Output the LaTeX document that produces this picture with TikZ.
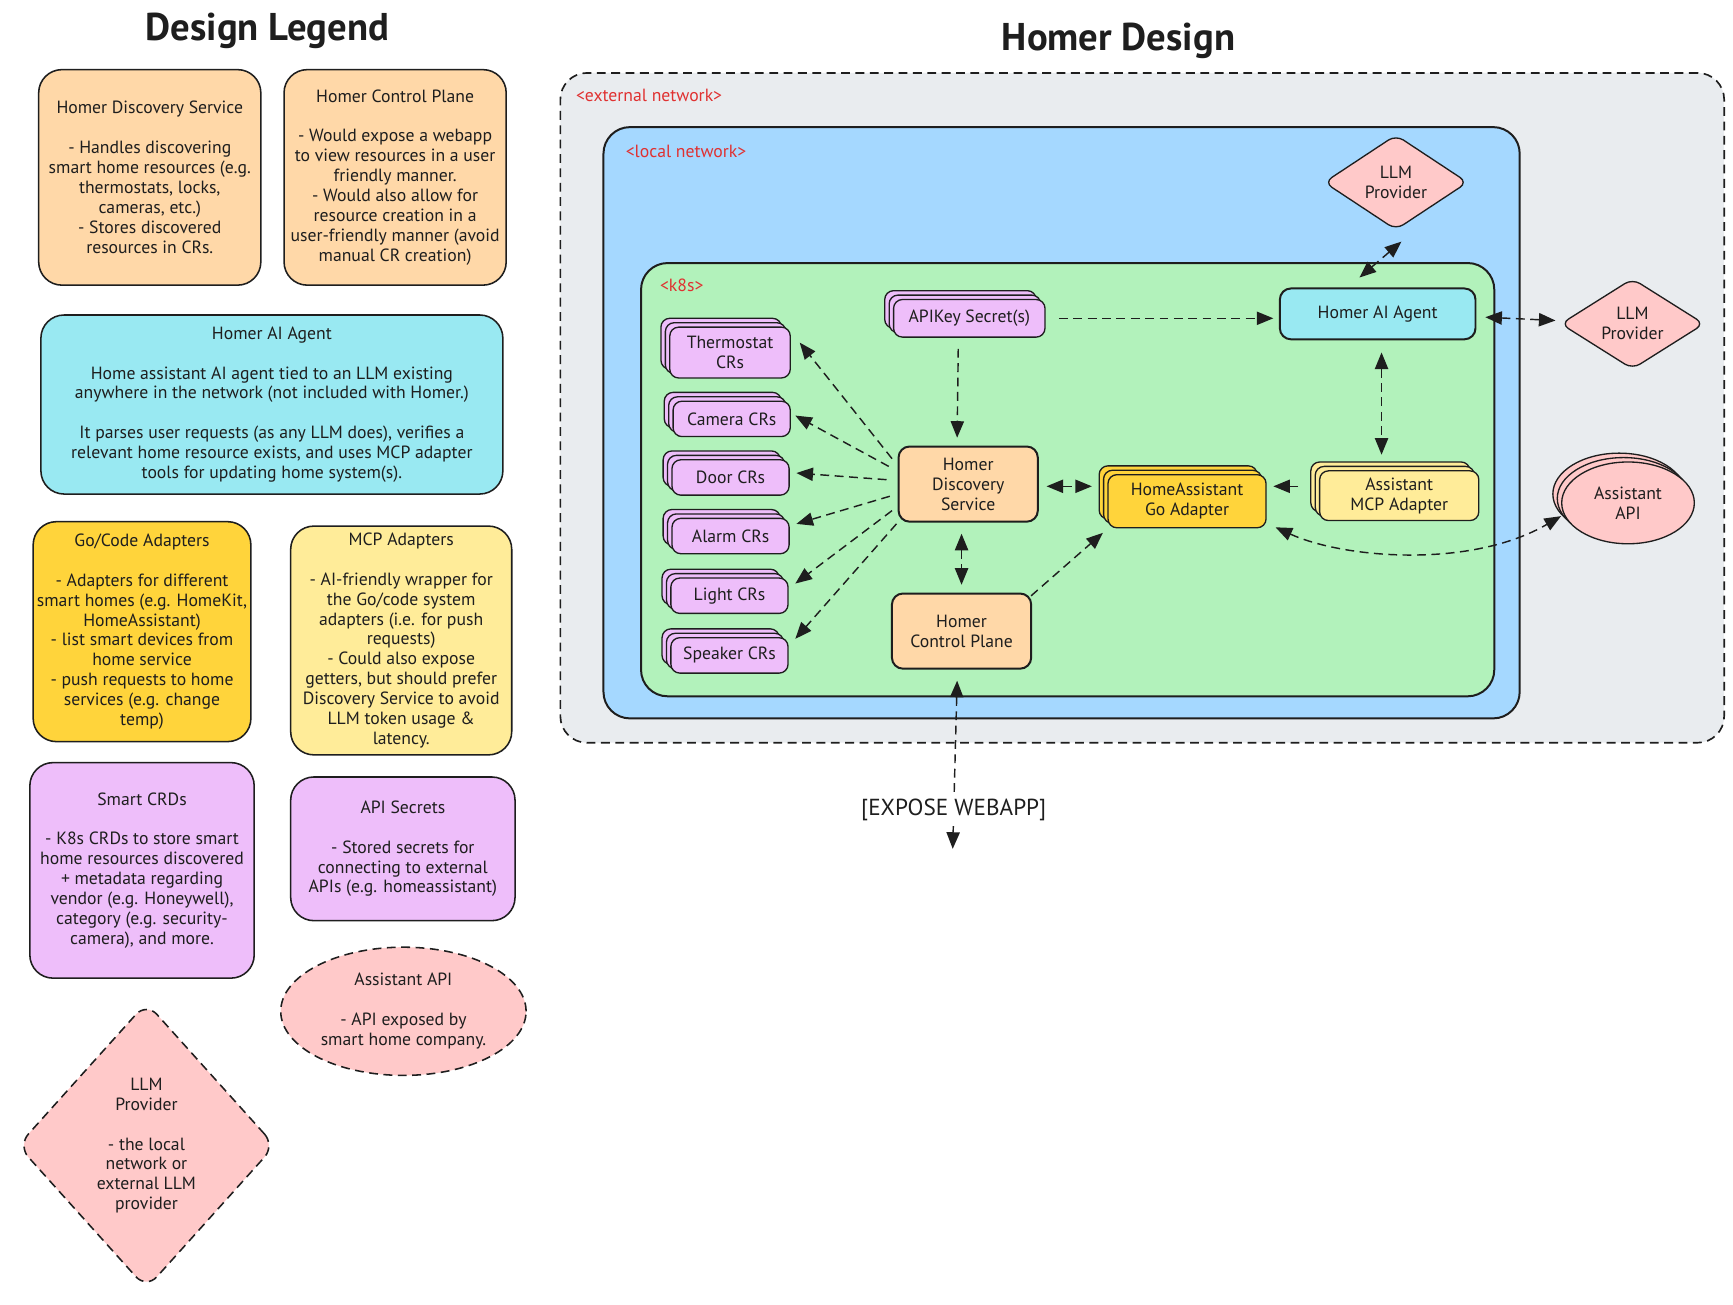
\documentclass[tikz,border=0pt]{standalone}
\usepackage{fontspec}
\setmainfont{PT Sans}
\usetikzlibrary{arrows.meta,shapes.geometric,shadows}
\definecolor{ink}{HTML}{1E1E1E}
\definecolor{peach}{HTML}{FFD8A8}
\definecolor{aqua}{HTML}{99E9F2}
\definecolor{gold}{HTML}{FFD43B}
\definecolor{lemon}{HTML}{FFEC99}
\definecolor{lilac}{HTML}{EEBEFA}
\definecolor{rose}{HTML}{FFC9C9}
\definecolor{extgrey}{HTML}{E9ECEF}
\definecolor{skyblue}{HTML}{A5D8FF}
\definecolor{mint}{HTML}{B2F2BB}
\definecolor{labelred}{HTML}{E03131}
\tikzset{
  txt/.style={font=\fontsize{16}{18}\selectfont, text=ink},
  legbox/.style={txt, draw=ink, line width=1.4pt, rounded corners=21pt, align=center, inner sep=0pt},
  legdash/.style={txt, draw=ink, line width=1.4pt, dash pattern=on 8pt off 5pt, align=center, inner sep=0pt},
  container/.style={draw=ink, line width=1.8pt, rounded corners=24pt, inner sep=0pt},
  netlabel/.style={font=\fontsize{16}{18}\selectfont, text=labelred, anchor=west, inner sep=0pt},
  dbox/.style={txt, draw=ink, line width=1.8pt, rounded corners=10pt, align=center, inner sep=0pt},
  sbox/.style={txt, draw=ink, line width=1.2pt, rounded corners=8pt, align=center, inner sep=0pt},
  stackof/.style={copy shadow={shadow xshift=-8pt, shadow yshift=8pt, fill=#1, draw=ink, line width=1.2pt},
                  copy shadow={shadow xshift=-4pt, shadow yshift=4pt, fill=#1, draw=ink, line width=1.2pt}, fill=#1},
  arr/.style={draw=ink, line width=1.3pt, dash pattern=on 8pt off 5pt, -{Triangle[length=15pt,width=12pt]}},
  biarr/.style={draw=ink, line width=1.3pt, dash pattern=on 8pt off 5pt, {Triangle[length=15pt,width=12pt]}-{Triangle[length=15pt,width=12pt]}},
  titletext/.style={font=\fontsize{35}{40}\selectfont\bfseries, text=ink},
  weblabel/.style={font=\fontsize{21}{24}\selectfont, text=ink, fill=white, inner sep=3pt},
}
\begin{document}
\begin{tikzpicture}[x=1pt,y=-1pt]
\useasboundingbox[fill=white] (0,0) rectangle (1568,1180);

% ---------- titles ----------
\node[titletext] (t1) at (242,28) {Design Legend};
\node[titletext] (t2) at (1012,37) {Homer Design};

% ---------- legend ----------
\node[legbox, fill=peach, minimum width=201pt, minimum height=195pt] (ldisc) at (135.5,160.5)
 {Homer Discovery Service\\[18pt]- Handles discovering\\smart home resources (e.g.\\thermostats, locks,\\cameras, etc.)\\- Stores discovered\\resources in CRs.};
\node[legbox, fill=peach, minimum width=201pt, minimum height=195pt] (lctrl) at (357.5,160.5)
 {Homer Control Plane\\[18pt]- Would expose a webapp\\to view resources in a user\\friendly manner.\\- Would also allow for\\resource creation in a\\user-friendly manner (avoid\\manual CR creation)};
\node[legbox, fill=aqua, minimum width=418pt, minimum height=162pt] (lagent) at (246,366)
 {Homer AI Agent\\[18pt]Home assistant AI agent tied to an LLM existing\\anywhere in the network (not included with Homer.)\\[18pt]It parses user requests (as any LLM does), verifies a\\relevant home resource exists, and uses MCP adapter\\tools for updating home system(s).};
\node[legbox, fill=gold, minimum width=197pt, minimum height=199pt] (lgo) at (128.5,571.5)
 {Go/Code Adapters\\[18pt]- Adapters for different\\smart homes (e.g. HomeKit,\\HomeAssistant)\\- list smart devices from\\home service\\- push requests to home\\services (e.g. change\\temp)};
\node[legbox, fill=lemon, minimum width=200pt, minimum height=207pt] (lmcp) at (363,579.5)
 {MCP Adapters\\[18pt]- AI-friendly wrapper for\\the Go/code system\\adapters (i.e. for push\\requests)\\- Could also expose\\getters, but should prefer\\Discovery Service to avoid\\LLM token usage \&\\latency.};
\node[legbox, fill=lilac, minimum width=203pt, minimum height=195pt] (lcrd) at (128.5,787.5)
 {Smart CRDs\\[18pt]- K8s CRDs to store smart\\home resources discovered\\+ metadata regarding\\vendor (e.g. Honeywell),\\category (e.g. security-\\camera), and more.};
\node[legbox, fill=lilac, minimum width=203pt, minimum height=130pt] (lsec) at (364.5,768)
 {API Secrets\\[18pt]- Stored secrets for\\connecting to external\\APIs (e.g. homeassistant)};
\node[legdash, ellipse, fill=rose, minimum width=222pt, minimum height=116pt] (lapi) at (365,915)
 {Assistant API\\[18pt]- API exposed by\\smart home company.};
\node[legdash, diamond, aspect=0.9, rounded corners=14pt, fill=rose, minimum width=233pt, minimum height=259pt] (lllm) at (132.5,1036.5)
 {LLM\\Provider\\[18pt]- the local\\network or\\external LLM\\provider};

% ---------- containers ----------
\node[container, fill=extgrey, line width=1.5pt, dash pattern=on 8pt off 5pt, minimum width=1053pt, minimum height=606pt] (ext) at (1033.5,369) {};
\node[container, fill=skyblue, minimum width=829pt, minimum height=535pt] (loc) at (960.5,382.5) {};
\node[container, fill=mint, minimum width=772pt, minimum height=392pt] (k8s) at (966,434) {};
\node[netlabel] (lext) at (521,86) {<external network>};
\node[netlabel] (lloc) at (566,137) {<local network>};
\node[netlabel] (lk8s) at (597,258) {<k8s>};

% ---------- design nodes ----------
\node[sbox, stackof=lilac, minimum width=109pt, minimum height=46pt] (thermo) at (660.5,319) {Thermostat\\CRs};
\node[sbox, stackof=lilac, minimum width=106pt, minimum height=32pt] (cam) at (662,379) {Camera CRs};
\node[sbox, stackof=lilac, minimum width=106pt, minimum height=32pt] (door) at (661,432) {Door CRs};
\node[sbox, stackof=lilac, minimum width=106pt, minimum height=32pt] (alarm) at (661,485) {Alarm CRs};
\node[sbox, stackof=lilac, minimum width=106pt, minimum height=32pt] (light) at (660,539) {Light CRs};
\node[sbox, stackof=lilac, minimum width=106pt, minimum height=32pt] (speaker) at (660,593) {Speaker CRs};
\node[sbox, stackof=lilac, minimum width=137pt, minimum height=34pt] (api) at (877,288) {APIKey Secret(s)};
\node[dbox, fill=peach, minimum width=126pt, minimum height=68pt] (disc) at (876,438) {Homer\\Discovery\\Service};
\node[dbox, fill=peach, minimum width=126pt, minimum height=68pt] (ctrl) at (870,571) {Homer\\Control Plane};
\node[sbox, stackof=gold, minimum width=143pt, minimum height=48pt] (go) at (1074,453.5) {HomeAssistant\\Go Adapter};
\node[sbox, stackof=lemon, minimum width=144pt, minimum height=45pt] (mcp) at (1266,448.5) {Assistant\\MCP Adapter};
\node[dbox, fill=aqua, minimum width=177pt, minimum height=46pt] (agent) at (1246.5,284) {Homer AI Agent};
\node[txt, diamond, aspect=1.5, rounded corners=8pt, draw=ink, line width=1.2pt, fill=rose, inner sep=0pt, align=center, minimum width=130pt, minimum height=86pt] (llmin) at (1263,165) {LLM\\Provider};
\node[txt, diamond, aspect=1.5, rounded corners=8pt, draw=ink, line width=1.2pt, fill=rose, inner sep=0pt, align=center, minimum width=130pt, minimum height=82pt] (llmout) at (1477,293) {LLM\\Provider};
\node[txt, ellipse, draw=ink, line width=1.2pt, stackof=rose, inner sep=0pt, align=center, minimum width=120pt, minimum height=74pt] (apis) at (1473,455) {Assistant\\API};
\coordinate (webend) at (862,768);

% ---------- connectors ----------
\draw[arr] ([xshift=12pt]api.east) -- ([xshift=-5pt,yshift=-4pt]agent.west);
\draw[arr] ([xshift=-10pt,yshift=-10pt]api.south) -- ([xshift=-10pt,yshift=7pt]disc.north);
\draw[arr] ([xshift=-5pt,yshift=23pt]disc.west) -- ([xshift=8pt,yshift=9pt]thermo.east);
\draw[arr] ([xshift=-8pt,yshift=16pt]disc.west) -- ([xshift=4pt,yshift=3pt]cam.east);
\draw[arr] ([xshift=-10pt,yshift=4pt]disc.west) -- ([xshift=6pt,yshift=4pt]door.east);
\draw[arr] ([xshift=-7pt,yshift=-11pt]disc.west) -- ([xshift=6pt,yshift=11pt]alarm.east);
\draw[arr] ([xshift=-5pt,yshift=-24pt]disc.west) -- ([xshift=6pt,yshift=11pt]light.east);
\draw[arr] ([xshift=-1pt,yshift=-36pt]disc.west) -- ([xshift=6pt,yshift=15pt]speaker.east);
\draw[biarr] ([xshift=7pt,yshift=-2pt]disc.east) -- ([xshift=-14pt,yshift=13.5pt]go.west);
\draw[biarr] ([xshift=-6pt,yshift=-10pt]disc.south) -- ([yshift=7pt]ctrl.north);
\draw[arr] ([xshift=-1pt,yshift=-3pt]ctrl.north east) -- ([xshift=-4pt,yshift=-4pt]go.south west);
\draw[arr] ([xshift=-19pt,yshift=8.5pt]mcp.west) -- ([xshift=6pt,yshift=13.5pt]go.east);
\draw[biarr] ([xshift=3.5pt,yshift=-11pt]agent.south) -- ([xshift=-16pt,yshift=14pt]mcp.north);
\draw[biarr] ([xshift=-16.5pt,yshift=9pt]agent.north) -- ([xshift=5pt,yshift=-10pt]llmin.south);
\draw[biarr] ([xshift=8pt,yshift=-3pt]agent.east) -- ([xshift=-4pt,yshift=3pt]llmout.west);
\draw[biarr] ([xshift=8pt,yshift=1pt]go.south east) .. controls (1215,505) and (1330,515) .. ([yshift=-12pt]apis.west);
\draw[biarr] ([xshift=-4pt,yshift=-10pt]ctrl.south) -- node[weblabel, pos=0.77] (wl) {[EXPOSE WEBAPP]} (webend);
\end{tikzpicture}
\end{document}
